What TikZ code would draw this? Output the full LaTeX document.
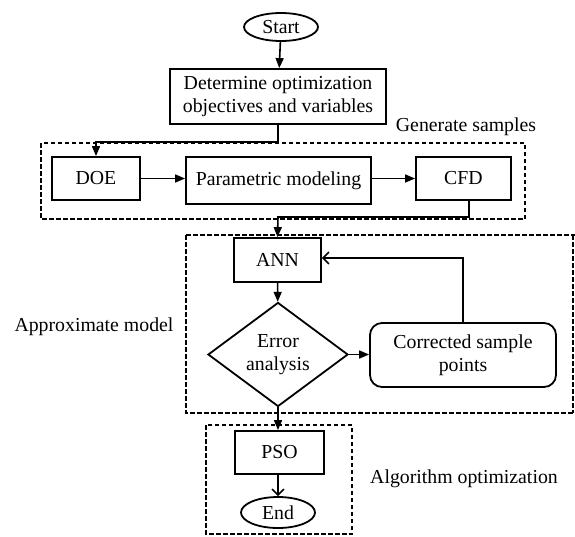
\documentclass[tikz,border=0pt]{standalone}
\usepackage{fontspec}
\setmainfont{Liberation Serif}
\usetikzlibrary{shapes.geometric, arrows.meta}

\begin{document}
\begin{tikzpicture}[x=1pt, y=-1pt, font=\fontsize{19.8}{23}\selectfont,
    box/.style = {draw, line width=1.8pt, rectangle, inner sep=0pt, align=center},
    term/.style = {draw, line width=1.8pt, ellipse, inner sep=0pt},
    dec/.style = {draw, line width=1.8pt, diamond, inner sep=0pt, align=center},
    grp/.style = {line width=2pt, dash pattern=on 4.5pt off 2.5pt},
    arr/.style = {line width=1.6pt, -{Triangle[length=10pt, width=8pt]}},
    oarr/.style = {line width=1.5pt, -{Straight Barb[length=6pt, width=12pt]}}]

    \useasboundingbox (0,0) rectangle (575,536);

    \node[term, minimum width=74pt, minimum height=28pt] (s) at (281,27) {Start};
    \node[box, minimum width=216pt, minimum height=55pt] (det) at (278,96.5) {Determine optimization\\objectives and variables};
    \draw[arr] (s) -- (det);

    %--------------------------------------------

    \draw[grp] (41,143) rectangle (525,219);
    \node (gen) at (466,127) {Generate samples};

    \node[box, minimum width=88pt, minimum height=43pt] (doe) at (96,178.5) {DOE};
    \node[box, minimum width=185pt, minimum height=47pt] (par) at (278.5,180.5) {Parametric modeling};
    \node[box, minimum width=95pt, minimum height=43pt] (cfd) at (463.5,178.5) {CFD};

    \coordinate (b1) at (278,142);
    \draw[arr] (det.south) -- (b1) -| (doe.north);
    \draw[arr] (doe.east) -- (doe.east -| par.west);
    \draw[arr] (par.east |- cfd.west) -- (cfd.west);

    %--------------------------------------------

    \draw[grp] (186,235) -- (575,235);
    \draw[grp] (186,235) -- (186,413) -- (575,413);
    \draw[grp] (573,235) -- (573,413);
    \node (apm) at (94,327) {Approximate model};

    \node[box, minimum width=87pt, minimum height=44pt] (ann) at (277.5,260) {ANN};
    \node[dec, minimum width=140pt, minimum height=103pt] (err) at (278,354.5) {Error\\analysis};
    \node[box, rounded corners=12pt, minimum width=186pt, minimum height=64pt] (cor) at (463,355) {Corrected sample\\points};

    \coordinate (b2) at (469,217);
    \coordinate (b3) at (278,217);
    \draw[arr] (b2 |- cfd.south) -- (b2) -- (b3) -- (ann.north);
    \draw[arr] (ann) -- (err);
    \draw[arr] (err.east) -- (cor.west |- err.east);
    \coordinate (b4) at (463,258);
    \draw[oarr] (cor.north) -- (b4) -- (b4 -| ann.east);

    %--------------------------------------------

    \draw[grp] (206,425) rectangle (352,534);
    \node (alg) at (464,479) {Algorithm optimization};

    \node[box, minimum width=89pt, minimum height=43pt] (pso) at (279.5,452.5) {PSO};
    \node[term, minimum width=74pt, minimum height=31pt] (e) at (278,512.5) {End};

    \draw[arr] (err.south) -- (err.south |- pso.north);
    \draw[oarr] (pso.south -| e.north) -- (e.north);

\end{tikzpicture}
\end{document}
